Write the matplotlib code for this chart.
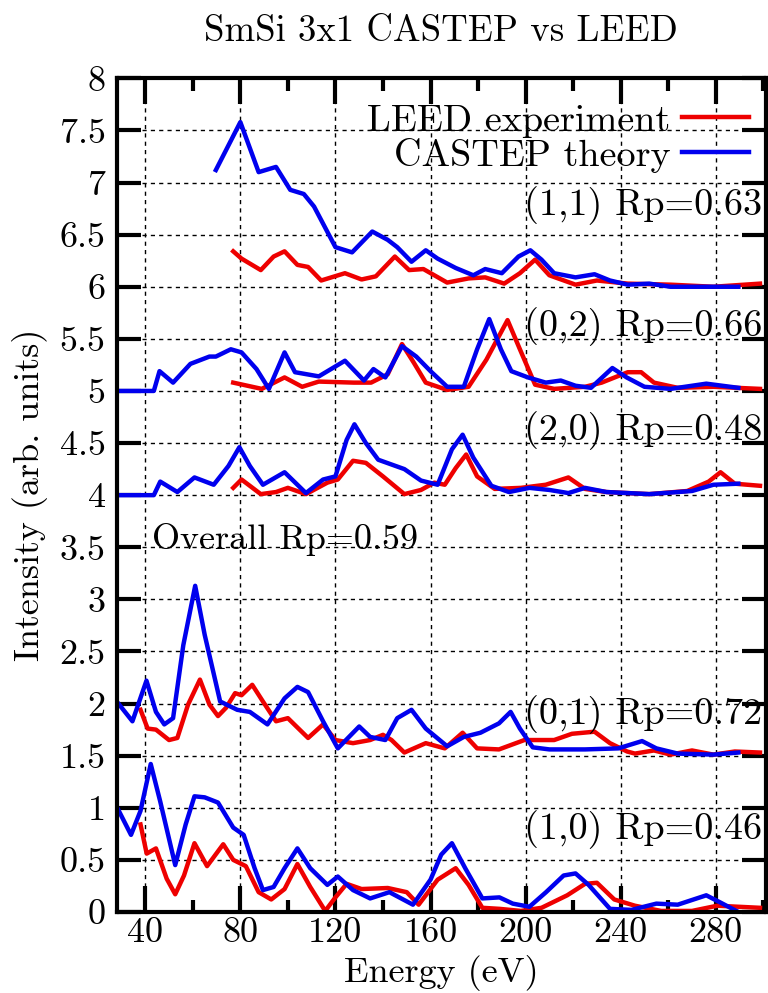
import matplotlib
matplotlib.use("Agg")
import matplotlib.pyplot as plt

plt.rcParams['font.family'] = ['cmr10', 'DejaVu Serif']
plt.rcParams['mathtext.fontset'] = 'cm'
plt.rcParams['axes.formatter.use_mathtext'] = True

# (1,1) beam, offset 6
e11_exp = [77, 80.5, 88.6, 94, 98.6, 104, 108.5, 114, 124, 131, 137, 145, 151, 157, 167, 176, 183, 191, 197.6, 204, 210, 221, 230, 243, 261, 279, 298.6]
i11_exp = [6.34, 6.27, 6.16, 6.29, 6.34, 6.21, 6.19, 6.06, 6.13, 6.07, 6.10, 6.29, 6.16, 6.17, 6.04, 6.08, 6.09, 6.03, 6.13, 6.26, 6.11, 6.02, 6.06, 6.03, 6.02, 6.0, 6.03]
e11_th = [69.7, 80, 87.7, 95, 101, 106.7, 111, 120, 127, 135.5, 142, 146, 152, 158, 163, 170.6, 178, 183, 190, 197, 202, 206.7, 212, 221, 229, 235.5, 243, 252, 261, 289.5]
i11_th = [7.12, 7.58, 7.10, 7.15, 6.93, 6.89, 6.77, 6.38, 6.33, 6.53, 6.45, 6.38, 6.24, 6.35, 6.27, 6.18, 6.11, 6.17, 6.13, 6.29, 6.35, 6.26, 6.13, 6.09, 6.12, 6.06, 6.02, 6.03, 6.0, 6.0]

# (0,2) beam, offset 5
e02_exp = [77, 89, 98.6, 106, 113, 127.7, 135, 142, 148, 153, 158, 167, 176, 183.5, 192.4, 197.6, 204, 212, 225, 232, 243, 248.6, 254, 264, 279, 298.6]
i02_exp = [5.08, 5.02, 5.13, 5.04, 5.09, 5.08, 5.08, 5.16, 5.45, 5.27, 5.08, 5.01, 5.04, 5.30, 5.68, 5.40, 5.06, 5.02, 5.04, 5.08, 5.18, 5.18, 5.08, 5.03, 5.04, 5.02]
e02_th = [28, 43.6, 46, 51.7, 59, 67, 69.7, 76, 80.5, 86.8, 92, 98.6, 103, 113, 124, 132, 136, 141, 148, 154, 160, 167, 174, 179.6, 184.7, 189.6, 194, 201, 208.5, 214.8, 221, 227.5, 236.5, 242.5, 250, 261, 276, 289.5]
i02_th = [5.0, 5.0, 5.19, 5.08, 5.26, 5.33, 5.33, 5.40, 5.37, 5.21, 5.02, 5.37, 5.18, 5.14, 5.29, 5.10, 5.21, 5.13, 5.43, 5.33, 5.19, 5.04, 5.04, 5.40, 5.69, 5.40, 5.19, 5.13, 5.08, 5.10, 5.05, 5.03, 5.22, 5.13, 5.04, 5.02, 5.07, 5.03]

# (2,0) beam, offset 4
e20_exp = [77, 80.5, 88.6, 95, 100, 107.6, 116.6, 121, 127.4, 132.8, 140, 149, 156, 161.6, 166, 170.6, 175, 179.6, 187, 198, 208.5, 218, 225, 234, 252, 268, 277, 282, 288, 298.6]
i20_exp = [4.07, 4.15, 4.01, 4.03, 4.07, 4.01, 4.12, 4.15, 4.33, 4.31, 4.18, 4.01, 4.05, 4.12, 4.10, 4.26, 4.39, 4.18, 4.06, 4.07, 4.10, 4.17, 4.06, 4.03, 4.01, 4.04, 4.13, 4.22, 4.11, 4.09]
e20_th = [28, 43.6, 46.3, 53.5, 60.7, 68.8, 75, 79.6, 84, 89.5, 98.6, 107.6, 114.8, 120, 124.7, 128, 132.8, 138, 149, 156, 163, 169, 173.5, 178, 185.6, 193, 201.6, 210, 218, 225, 234, 252, 270, 279, 289.5]
i20_th = [4.0, 4.0, 4.13, 4.03, 4.17, 4.10, 4.28, 4.46, 4.28, 4.10, 4.22, 4.02, 4.15, 4.18, 4.53, 4.68, 4.50, 4.34, 4.25, 4.14, 4.10, 4.44, 4.58, 4.36, 4.09, 4.03, 4.07, 4.05, 4.02, 4.07, 4.03, 4.01, 4.04, 4.10, 4.11]

# (0,1) beam, offset 1.5
e01_exp = [38, 41, 44.5, 50, 53.5, 58, 63, 67, 70.6, 74, 77.8, 80.5, 85, 89.5, 95, 100, 108.5, 114.8, 120, 127.4, 134.6, 140, 143.6, 149, 158, 166, 173.5, 179.6, 188.8, 199.5, 206.7, 212, 219.5, 229, 235.5, 242.7, 246, 254, 261, 270, 279, 288, 298.6]
i01_exp = [1.94, 1.76, 1.75, 1.65, 1.67, 1.99, 2.23, 1.99, 1.88, 1.96, 2.10, 2.08, 2.18, 2.02, 1.83, 1.86, 1.67, 1.80, 1.65, 1.62, 1.65, 1.70, 1.65, 1.53, 1.62, 1.57, 1.72, 1.57, 1.56, 1.65, 1.65, 1.65, 1.71, 1.73, 1.62, 1.54, 1.52, 1.55, 1.51, 1.55, 1.51, 1.54, 1.53]
e01_th = [28, 34.6, 40.5, 44.5, 48, 51.7, 56, 61, 65, 71.5, 78.7, 84, 91.4, 98.6, 104, 108.5, 114.8, 121, 130, 134.6, 141, 146, 152, 158, 167, 174, 181, 188.8, 193.7, 197.6, 203, 210, 225, 239, 249, 255, 264, 279, 289.5]
i01_th = [2.02, 1.83, 2.22, 1.92, 1.80, 1.86, 2.56, 3.13, 2.66, 2.02, 1.94, 1.92, 1.80, 2.05, 2.16, 2.11, 1.83, 1.57, 1.78, 1.68, 1.65, 1.86, 1.94, 1.76, 1.59, 1.68, 1.72, 1.81, 1.92, 1.76, 1.58, 1.56, 1.56, 1.57, 1.64, 1.57, 1.52, 1.51, 1.53]

# (1,0) beam, offset 0
e10_exp = [38, 40.6, 44.5, 49, 52.6, 56.3, 60.7, 66, 72.8, 77, 82.3, 87.7, 93, 98.6, 104, 109.4, 115.7, 120, 124.7, 131, 142, 150, 155, 163, 170.6, 176, 181.8, 189, 198, 206.7, 217.5, 225, 230, 237.3, 246, 257, 270, 280.6, 298.6]
i10_exp = [0.84, 0.56, 0.61, 0.32, 0.17, 0.35, 0.66, 0.44, 0.65, 0.50, 0.44, 0.19, 0.12, 0.22, 0.46, 0.24, 0.01, 0.14, 0.27, 0.22, 0.23, 0.19, 0.07, 0.31, 0.42, 0.26, 0.04, 0.03, 0.01, 0.04, 0.16, 0.27, 0.28, 0.12, 0.06, 0.01, 0.01, 0.06, 0.04]
e10_th = [28, 34, 38, 42.3, 46.3, 52.6, 57, 60.7, 65, 70.6, 77, 81.4, 86, 89.5, 94, 98.6, 104, 109.4, 116.6, 121, 127.4, 134.6, 142.7, 152.6, 160, 164.5, 169, 174.6, 181.8, 189, 194.6, 201.6, 208.6, 216, 221, 226.5, 235.5, 244.5, 255, 264, 276, 282, 289.5]
i10_th = [1.01, 0.74, 0.97, 1.42, 1.06, 0.45, 0.84, 1.11, 1.10, 1.05, 0.81, 0.74, 0.42, 0.21, 0.24, 0.42, 0.61, 0.42, 0.26, 0.34, 0.21, 0.13, 0.19, 0.07, 0.31, 0.55, 0.66, 0.42, 0.13, 0.14, 0.08, 0.05, 0.19, 0.35, 0.37, 0.26, 0.03, 0.02, 0.08, 0.07, 0.16, 0.09, 0.0]

labels = ["(1,1) Rp=0.63", "(0,2) Rp=0.66", "(2,0) Rp=0.48", "(0,1) Rp=0.72", "(1,0) Rp=0.46"]
label_y = [6.78, 5.62, 4.62, 1.89, 0.79]

xticks = [40, 80, 120, 160, 200, 240, 280]
yticks = [0, 0.5, 1, 1.5, 2, 2.5, 3, 3.5, 4, 4.5, 5, 5.5, 6, 6.5, 7, 7.5, 8]
ytick_labels = ["0", "0.5", "1", "1.5", "2", "2.5", "3", "3.5", "4", "4.5", "5", "5.5", "6", "6.5", "7", "7.5", "8"]

red = '#ee0000'
blue = '#0000ee'
lw = 3.2
fs = 26

fig = plt.figure(figsize=(7.68, 9.93), dpi=100)
ax = fig.add_axes([0.152, 0.0816, 0.845, 0.8395])

first = True
for ex, ix, et, it in [(e11_exp, i11_exp, e11_th, i11_th),
                       (e02_exp, i02_exp, e02_th, i02_th),
                       (e20_exp, i20_exp, e20_th, i20_th),
                       (e01_exp, i01_exp, e01_th, i01_th),
                       (e10_exp, i10_exp, e10_th, i10_th)]:
    ax.plot(ex, ix, color=red, lw=lw, label="LEED experiment" if first else None)
    ax.plot(et, it, color=blue, lw=lw, label="CASTEP theory" if first else None)
    first = False

for lab, y in zip(labels, label_y):
    ax.text(299.5, y, lab, ha='right', va='center', fontsize=27.5)
ax.text(43, 3.57, "Overall Rp=0.59", ha='left', va='center', fontsize=26)

ax.set_xlim(28, 301)
ax.set_ylim(0, 8)
ax.set_xticks(xticks)
ax.set_xticks([60, 100, 140, 180, 220, 260, 300], minor=True)
ax.set_xticklabels([str(v) for v in xticks])
ax.set_yticks(yticks)
ax.set_yticklabels(ytick_labels)
ax.tick_params(axis='both', which='major', direction='in', length=19, width=3,
               labelsize=fs, top=True, right=True, pad=6)
ax.tick_params(axis='x', which='minor', direction='in', length=9, width=3, top=True)
ax.tick_params(axis='y', which='major', length=17, pad=8)
ax.tick_params(axis='x', which='major', pad=4)
ax.grid(True, which='major', color='black', linestyle=(0, (3, 3)), linewidth=1.0)
for s in ax.spines.values():
    s.set_linewidth(3)

ax.set_xlabel("Energy (eV)", fontsize=fs, labelpad=4)
ax.set_ylabel("Intensity (arb. units)", fontsize=fs, labelpad=8)
fig.text(0.5745, 0.968, "SmSi 3x1 CASTEP vs LEED", fontsize=26.5, ha='center', va='center')

ax.legend(loc='upper right', bbox_to_anchor=(0.992, 0.983), frameon=False,
          markerfirst=False, fontsize=27.5, handlelength=1.75, handletextpad=0.3,
          labelspacing=0.0, borderaxespad=0.0, borderpad=0.3)

plt.savefig('out.png', dpi=100)
